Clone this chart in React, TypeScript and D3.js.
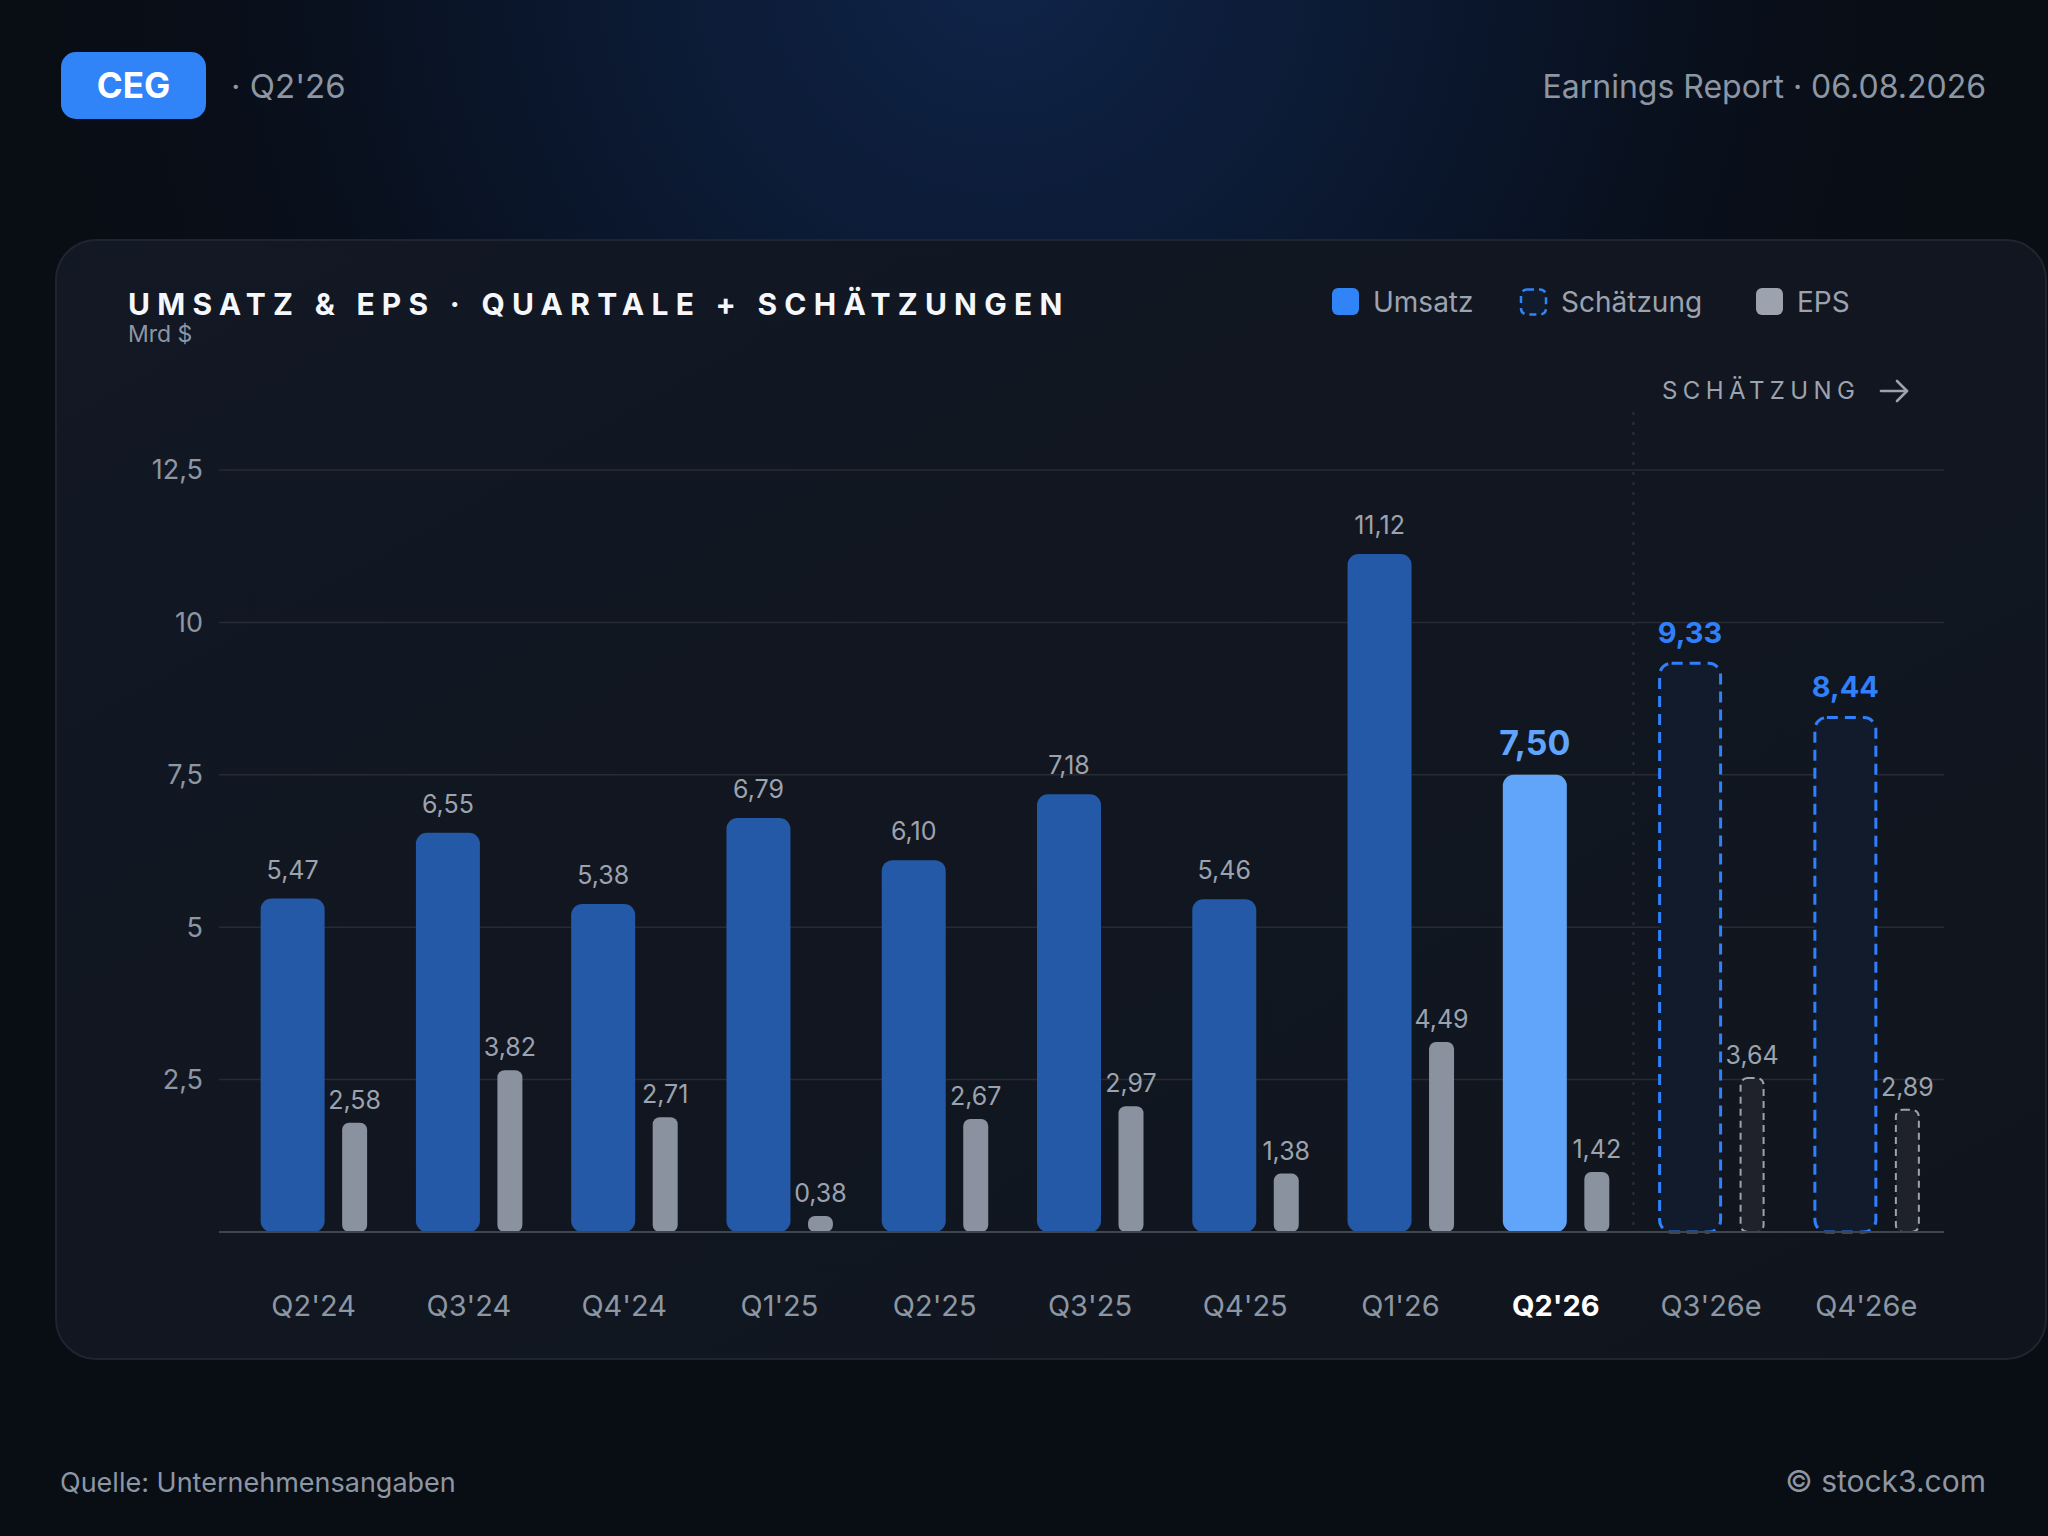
import * as d3 from "d3";

const quarters = ["Q2'24", "Q3'24", "Q4'24", "Q1'25", "Q2'25", "Q3'25", "Q4'25", "Q1'26", "Q2'26", "Q3'26e", "Q4'26e"];
const revenue = [5.47, 6.55, 5.38, 6.79, 6.1, 7.18, 5.46, 11.12, 7.5, 9.33, 8.44];
const eps = [2.58, 3.82, 2.71, 0.38, 2.67, 2.97, 1.38, 4.49, 1.42, 3.64, 2.89];
const estimateQuarters = ["Q3'26e", "Q4'26e"];
const currentQuarter = "Q2'26";
const yTicks = [2.5, 5, 7.5, 10, 12.5];

const W = 2048;
const H = 1536;
const FONT = "Inter, 'Noto Sans', sans-serif";

const locale = d3.formatLocale({ decimal: ",", thousands: ".", grouping: [3], currency: ["", "$"] });
const fmt2 = locale.format(".2f");
const fmtTick = locale.format("~g");

export default function App() {
	const x = d3.scaleBand<string>().domain(quarters).range([236, 1944]).paddingInner(0);
	const y = d3.scaleLinear().domain([0, 12.5]).range([1232, 470]);
	// EPS uses its own, flatter scale
	const yEps = d3.scaleLinear().domain([0, 18]).range([1232, 470]);

	const gridLeft = 219;
	const gridRight = 1944;
	const sepX = x(estimateQuarters[0])!;

	const center = (q: string) => x(q)! + x.bandwidth() / 2;

	return (
		<svg width={W} height={H} style={{ position: "fixed", left: 0, top: 0, fontFamily: FONT }}>
			<defs>
				<radialGradient id="glow" cx="1000" cy="-40" r="1050" gradientUnits="userSpaceOnUse">
					<stop offset="0" stopColor="#0f2449" />
					<stop offset="0.5" stopColor="#0a1529" />
					<stop offset="1" stopColor="#080c14" stopOpacity="0" />
				</radialGradient>
				<linearGradient id="card" x1="0" y1="0" x2="1" y2="1">
					<stop offset="0" stopColor="#121824" />
					<stop offset="1" stopColor="#10151d" />
				</linearGradient>
			</defs>

			<rect width={W} height={H} fill="#090d14" />
			<rect width={W} height={H} fill="url(#glow)" />

			{/* header */}
			<rect x={61} y={52} width={145} height={67} rx={15} fill="#3184f7" />
			<text x={133.5} y={97.5} textAnchor="middle" fill="#fff" fontSize={35} fontWeight={700}>
				CEG
			</text>
			<text x={231} y={98} fill="#8d96a3" fontSize={33}>
				· Q2'26
			</text>
			<text x={1986} y={98} textAnchor="end" fill="#8d96a3" fontSize={32}>
				Earnings Report · 06.08.2026
			</text>

			{/* card */}
			<rect x={56} y={240} width={1990} height={1119} rx={40} fill="url(#card)" stroke="#1f2530" strokeWidth={2} />

			<text x={128} y={315} fill="#f5f7fb" fontSize={30} fontWeight={700} letterSpacing={7.25}>
				UMSATZ &amp; EPS · QUARTALE + SCHÄTZUNGEN
			</text>
			<text x={128} y={342} fill="#8d96a3" fontSize={23}>
				Mrd $
			</text>

			{/* legend */}
			<rect x={1332} y={288} width={27} height={27} rx={6} fill="#3184f7" />
			<text x={1373} y={312} fill="#9ca3af" fontSize={28}>
				Umsatz
			</text>
			<rect x={1521} y={289.5} width={25} height={25} rx={6} fill="#111b2e" stroke="#3184f7" strokeWidth={2.5} strokeDasharray="7 5" />
			<text x={1561} y={312} fill="#9ca3af" fontSize={28}>
				Schätzung
			</text>
			<rect x={1756} y={288} width={27} height={27} rx={6} fill="#9ca3af" />
			<text x={1797} y={312} fill="#9ca3af" fontSize={28}>
				EPS
			</text>

			{/* estimate marker */}
			<text x={1662} y={399} fill="#9ca3af" fontSize={24} letterSpacing={5.4}>
				SCHÄTZUNG
			</text>
			<g stroke="#9ca3af" strokeWidth={2.6} fill="none" strokeLinecap="round" strokeLinejoin="round">
				<path d="M1881,391 H1907" />
				<path d="M1897,381 L1907,391 L1897,401" />
			</g>
			<line x1={sepX} x2={sepX} y1={412} y2={y(0)} stroke="#2a303b" strokeWidth={2} strokeDasharray="3 7" />

			{/* grid + y ticks */}
			{yTicks.map((t) => (
				<g key={t}>
					<line x1={gridLeft} x2={gridRight} y1={y(t)} y2={y(t)} stroke="#262b34" strokeWidth={1.5} />
					<text x={203} y={y(t)} dy="0.35em" textAnchor="end" fill="#8d96a3" fontSize={27}>
						{fmtTick(t)}
					</text>
				</g>
			))}

			{/* bars */}
			{quarters.map((q, i) => {
				const c = center(q);
				const isEst = estimateQuarters.includes(q);
				const isCur = q === currentQuarter;
				const rTop = y(revenue[i]);
				const eTop = yEps(eps[i]);
				return (
					<g key={q}>
						{isEst ? (
							<rect
								x={c - 53 + 1.5}
								y={rTop}
								width={64 - 3}
								height={y(0) - rTop}
								rx={12}
								fill="#111b2c"
								stroke="#2f80fa"
								strokeWidth={3}
								strokeDasharray="11 7"
							/>
						) : (
							<rect
								x={c - 53}
								y={rTop}
								width={64}
								height={y(0) - rTop}
								rx={11}
								fill={isCur ? "#60a5fa" : "#2459a8"}
							/>
						)}
						{isEst ? (
							<rect
								x={c + 28.5 + 1}
								y={eTop}
								width={25 - 2}
								height={y(0) - eTop}
								rx={7}
								fill="#1f222a"
								stroke="#9ca3af"
								strokeWidth={2}
								strokeDasharray="7 5"
							/>
						) : (
							<rect x={c + 28.5} y={eTop} width={25} height={y(0) - eTop} rx={7} fill="#89929e" />
						)}
						<text
							x={c - 21}
							y={rTop - 20}
							textAnchor="middle"
							fill={isEst ? "#2f80fa" : isCur ? "#60a5fa" : "#9ca3af"}
							fontSize={isCur ? 34 : isEst ? 29 : 25}
							fontWeight={isCur || isEst ? 700 : 400}
						>
							{fmt2(revenue[i])}
						</text>
						<text x={c + 41} y={eTop - 14} textAnchor="middle" fill="#9ca3af" fontSize={25}>
							{fmt2(eps[i])}
						</text>
						<text
							x={c}
							y={1316}
							textAnchor="middle"
							fill={isCur ? "#ffffff" : "#8d96a3"}
							fontSize={29}
							fontWeight={isCur ? 700 : 400}
						>
							{q}
						</text>
					</g>
				);
			})}

			{/* baseline */}
			<line x1={gridLeft} x2={gridRight} y1={y(0)} y2={y(0)} stroke="#3f4652" strokeWidth={2} />

			{/* footer */}
			<text x={60} y={1492} fill="#8d96a3" fontSize={27}>
				Quelle: Unternehmensangaben
			</text>
			<text x={1986} y={1492} textAnchor="end" fill="#8d96a3" fontSize={30}>
				© stock3.com
			</text>
		</svg>
	);
}
